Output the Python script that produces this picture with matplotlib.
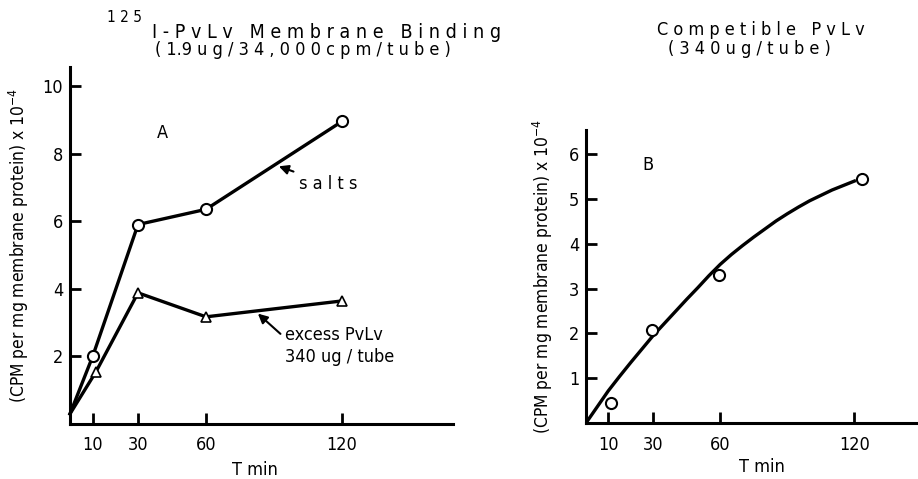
#!/usr/bin/env python3

import numpy as np
import matplotlib
matplotlib.use('Agg')
import matplotlib.pyplot as plt

plt.rcParams['font.family'] = ['DejaVu Sans']
plt.rcParams['font.stretch'] = 'condensed'

# panel A data
t_a = [0, 10, 30, 60, 120]
salts = [0.3, 2.0, 5.9, 6.35, 8.95]
t_ex = [0, 11.5, 30, 60, 120]
excess = [0.3, 1.55, 3.88, 3.17, 3.64]

# panel B data
t_b = [11, 29.5, 59.5, 123.5]
competible = [0.45, 2.07, 3.3, 5.44]
# hand drawn curve through panel B
curve_t = [0, 5, 10, 15, 20, 25, 30, 35, 40, 45, 50, 55, 60, 65, 70, 75, 80, 85, 90, 95,
	100, 105, 110, 115, 120]
curve_y = [0, 0.36, 0.72, 1.04, 1.35, 1.65, 1.95, 2.22, 2.49, 2.76, 3.02, 3.29, 3.54, 3.76,
	3.96, 4.15, 4.33, 4.51, 4.67, 4.82, 4.96, 5.08, 5.2, 5.3, 5.4]

xticks = [10, 30, 60, 120]
yticks_a = [2, 4, 6, 8, 10]
yticks_b = [1, 2, 3, 4, 5, 6]

W, H = 918, 479


def style(ax, xmax, ymax, yticks, xlab_x):
	ax.set_xlim(0, xmax)
	ax.set_ylim(0, ymax)
	for s in ('top', 'right'):
		ax.spines[s].set_visible(False)
	for s in ('left', 'bottom'):
		ax.spines[s].set_linewidth(2.2)
	ax.set_xticks(xticks)
	ax.set_yticks(yticks)
	ax.tick_params(direction='in', length=8, width=2, labelsize=13, pad=9)
	ax.tick_params(axis='y', pad=5)
	ax.set_xlabel('T min', fontsize=13)
	ax.xaxis.set_label_coords(xlab_x, -0.105)


fig = plt.figure(figsize=(W / 100, H / 100), dpi=100)

# panel A
axA = fig.add_axes([70 / W, 1 - 424 / H, 383 / W, 357 / H])
style(axA, 169, 10.56, yticks_a, 0.483)
axA.plot(t_a, salts, color='black', lw=2.4, marker='o', ms=8, mfc='white', mew=1.5,
	markevery=[1, 2, 3, 4], clip_on=False)
axA.plot(t_ex, excess, color='black', lw=2.4, marker='^', ms=7, mfc='white', mew=1.2,
	markevery=[1, 2, 3, 4], clip_on=False)
axA.set_ylabel(r'(CPM per mg membrane protein) x 10$^{-4}$', fontsize=12.5, labelpad=8)
axA.text(41, 8.6, 'A', fontsize=13, ha='center', va='center')
axA.annotate('s a l t s', xy=(91, 7.65), xytext=(101, 7.1), fontsize=13, va='center',
	arrowprops=dict(arrowstyle='-|>', color='black', lw=1.5, mutation_scale=14))
axA.annotate('excess PvLv\n340 ug / tube', xy=(82, 3.32), xytext=(95, 2.3), fontsize=13,
	va='center', linespacing=1.3,
	arrowprops=dict(arrowstyle='-|>', color='black', lw=1.5, mutation_scale=14, relpos=(0, 0.7)))

# panel B
axB = fig.add_axes([586 / W, 1 - 423 / H, 331 / W, 293 / H])
style(axB, 148, 6.54, yticks_b, 0.532)
axB.xaxis.set_label_coords(0.532, -0.12)
axB.plot(curve_t, curve_y, color='black', lw=2.4)
axB.plot(t_b, competible, ls='none', marker='o', ms=8, mfc='white', mec='black', mew=1.5, clip_on=False)
axB.set_ylabel(r'(CPM per mg membrane protein) x 10$^{-4}$', fontsize=12.5, labelpad=10)
axB.text(27.7, 5.76, 'B', fontsize=13, ha='center', va='center')

# titles
fig.text(107 / W, 1 - 17 / H, '1 2 5', fontsize=11, ha='left', va='center')
fig.text(152 / W, 1 - 32 / H, 'I - P v L v   M e m b r a n e   B i n d i n g', fontsize=14, ha='left', va='center')
fig.text(155 / W, 1 - 50 / H, '( 1.9 u g / 3 4 , 0 0 0 c p m / t u b e )', fontsize=13, ha='left', va='center')
fig.text(657 / W, 1 - 30 / H, 'C o m p e t i b l e   P v L v', fontsize=13, ha='left', va='center')
fig.text(668 / W, 1 - 49 / H, '( 3 4 0 u g / t u b e )', fontsize=13, ha='left', va='center')

fig.savefig('out.png', dpi=100)
